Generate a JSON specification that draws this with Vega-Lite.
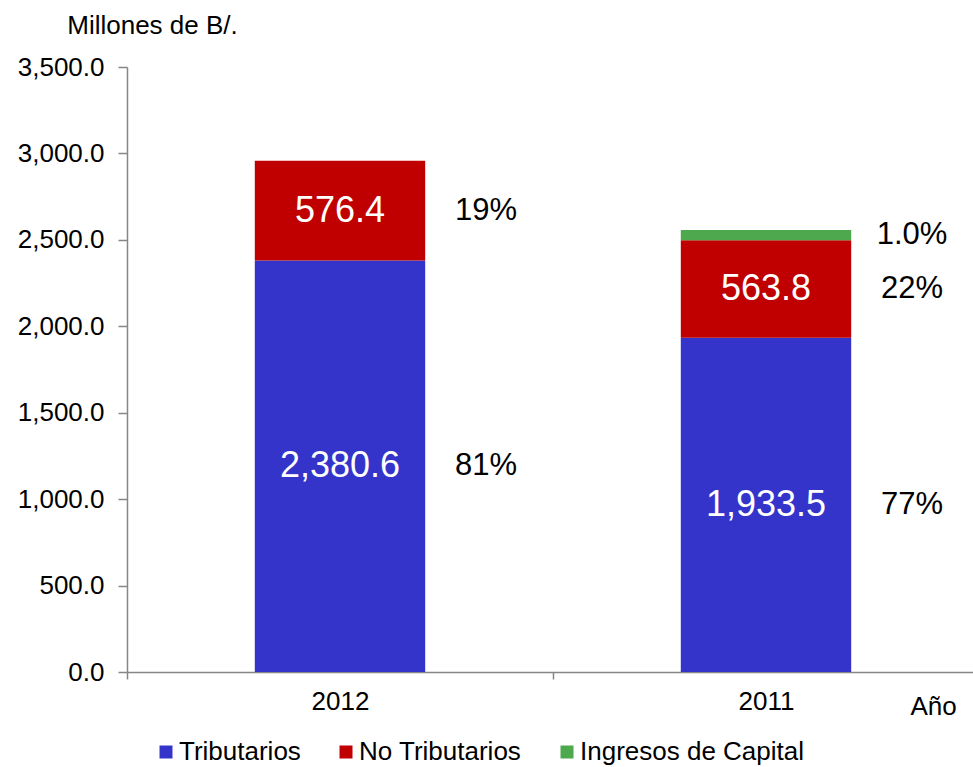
{
  "$schema": "https://vega.github.io/schema/vega-lite/v6.json",
  "width": 846,
  "height": 605,
  "autosize": {"type": "none"},
  "padding": {"left": 127, "top": 67, "right": 0, "bottom": 95},
  "background": "white",
  "config": {
    "font": "Liberation Sans",
    "view": {"stroke": null}
  },
  "data": {
    "values": [
      {"Año": "2012", "Tipo": "Tributarios", "Valor": 2380.6, "pct": "81%", "orden": 1},
      {"Año": "2012", "Tipo": "No Tributarios", "Valor": 576.4, "pct": "19%", "orden": 2},
      {"Año": "2011", "Tipo": "Tributarios", "Valor": 1933.5, "pct": "77%", "orden": 1},
      {"Año": "2011", "Tipo": "No Tributarios", "Valor": 563.8, "pct": "22%", "orden": 2},
      {"Año": "2011", "Tipo": "Ingresos de Capital", "Valor": 60, "pct": "1.0%", "orden": 3}
    ]
  },
  "transform": [
    {"stack": "Valor", "groupby": ["Año"], "sort": [{"field": "orden", "order": "ascending"}], "as": ["v0", "v1"]},
    {"calculate": "(datum.v0 + datum.v1) / 2", "as": "mid"}
  ],
  "encoding": {
    "x": {
      "field": "Año",
      "type": "nominal",
      "sort": ["2012", "2011"],
      "scale": {"paddingInner": 0.6, "paddingOuter": 0.3, "range": [0, 852]},
      "axis": {
        "title": "Año",
        "titleX": 806,
        "titleY": 34,
        "titleAlign": "center",
        "titleBaseline": "middle",
        "titleFontSize": 26,
        "titleFontWeight": "normal",
        "titleColor": "black",
        "labelAngle": 0,
        "labelFontSize": 26,
        "labelColor": "black",
        "labelBaseline": "top",
        "labelPadding": 9,
        "tickOffset": -213,
        "labelOffset": 213,
        "tickSize": 7,
        "tickColor": "#868686",
        "tickWidth": 1.5,
        "domainColor": "#868686",
        "domainWidth": 1.5
      }
    }
  },
  "layer": [
    {
      "mark": {"type": "bar"},
      "encoding": {
        "y": {
          "field": "v0",
          "type": "quantitative",
          "scale": {"domain": [0, 3500], "nice": false},
          "axis": {
            "values": [0, 500, 1000, 1500, 2000, 2500, 3000, 3500],
            "format": ",.1f",
            "grid": false,
            "labelFontSize": 26,
            "labelColor": "black",
            "labelPadding": 14,
            "tickSize": 9,
            "tickColor": "#868686",
            "tickWidth": 1.5,
            "domainColor": "#868686",
            "domainWidth": 1.5,
            "title": "Millones de B/.",
            "titleAngle": 0,
            "titleX": 25,
            "titleY": -42,
            "titleAlign": "center",
            "titleBaseline": "middle",
            "titleFontSize": 26,
            "titleFontWeight": "normal",
            "titleColor": "black"
          }
        },
        "y2": {"field": "v1"},
        "color": {
          "field": "Tipo",
          "type": "nominal",
          "scale": {
            "domain": ["Tributarios", "No Tributarios", "Ingresos de Capital"],
            "range": ["#3434CB", "#C00000", "#4EA84E"]
          },
          "legend": {
            "title": null,
            "orient": "none",
            "direction": "horizontal",
            "legendX": 26,
            "legendY": 672,
            "padding": 0,
            "symbolType": "square",
            "symbolSize": 169,
            "symbolStrokeWidth": 0,
            "labelFontSize": 26,
            "labelLimit": 0,
            "labelColor": "black",
            "labelOffset": 0,
            "columnPadding": 32
          }
        }
      }
    },
    {
      "transform": [{"filter": "datum.Valor > 100"}],
      "mark": {"type": "text", "color": "white", "fontSize": 36, "baseline": "middle", "align": "center"},
      "encoding": {
        "y": {"field": "mid", "type": "quantitative"},
        "text": {"field": "Valor", "type": "quantitative", "format": ",.1f"}
      }
    },
    {
      "mark": {"type": "text", "color": "black", "fontSize": 31, "baseline": "middle", "align": "center", "dx": 146},
      "encoding": {
        "y": {"field": "mid", "type": "quantitative"},
        "text": {"field": "pct", "type": "nominal"}
      }
    }
  ]
}
